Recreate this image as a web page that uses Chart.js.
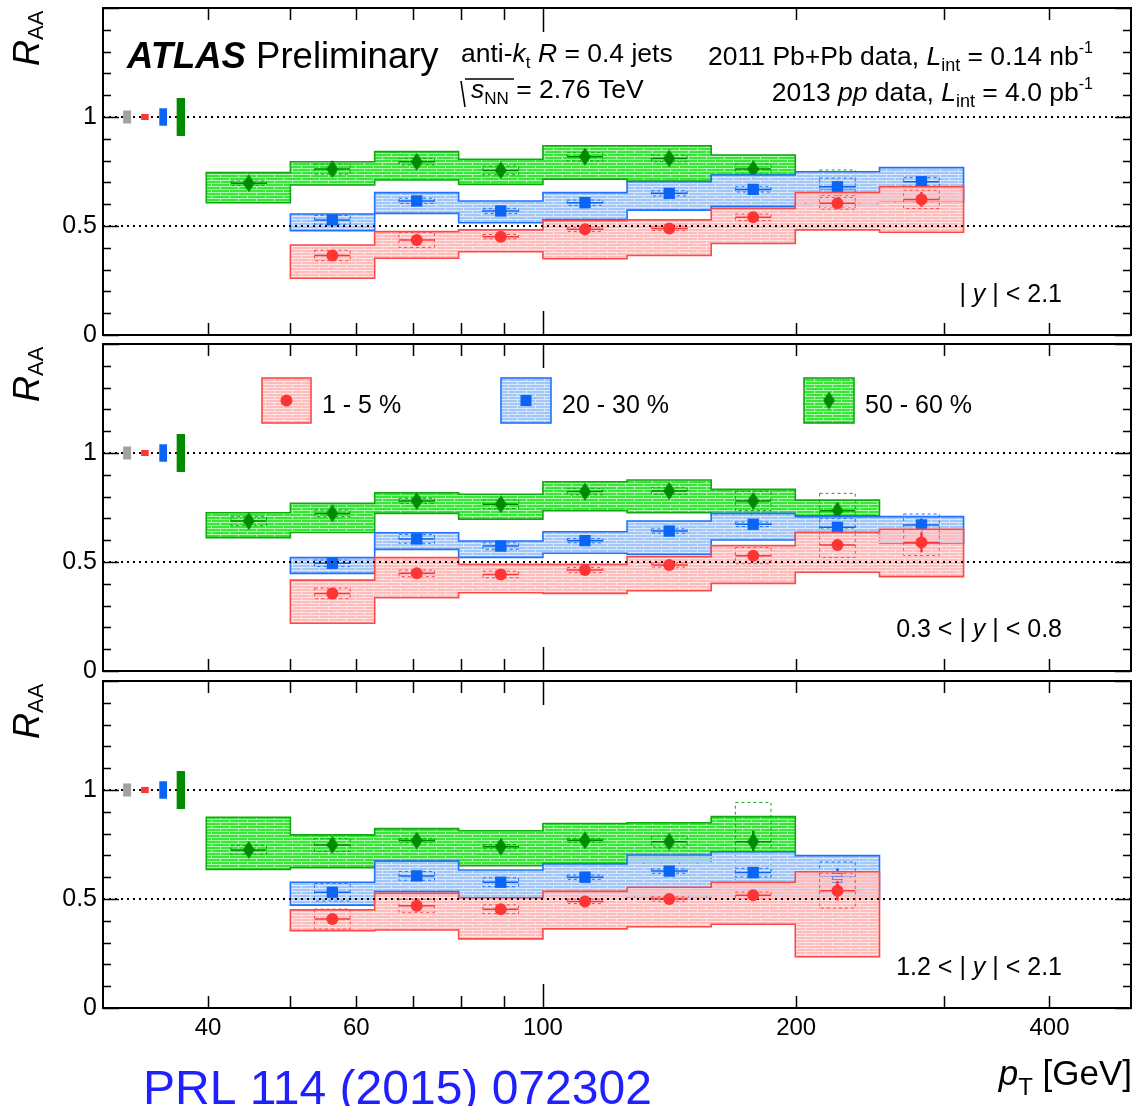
<!DOCTYPE html>
<html>
<head>
<meta charset="utf-8">
<title>Jet R_AA vs pT</title>
<script src="https://cdn.jsdelivr.net/npm/chart.js@4.4.1/dist/chart.umd.min.js"></script>
<style>
  body { margin: 0; background: #fff; }
  #wrap { position: relative; width: 1132px; height: 1106px; overflow: hidden; background: #fff; }
  #wrap canvas { position: absolute; left: 0; top: 0; }
</style>
</head>
<body>
<div id="wrap">
  <canvas id="c1" width="1132" height="1106"></canvas>
  <canvas id="c2" width="1132" height="1106"></canvas>
  <canvas id="c3" width="1132" height="1106"></canvas>
</div>
<script>
// pT binning (GeV) and marker positions
const ptEdges = [39.8, 50.1, 63.1, 79.4, 100, 125.9, 158.5, 199.5, 251.2, 316.2];
const ptCenters = [44.7, 56.2, 70.8, 89.1, 112.2, 141.3, 177.8, 223.9, 281.8];

const xTicks = [40, 50, 60, 70, 80, 90, 100, 200, 300, 400];
const xLabels = [40, 60, 100, 200, 400];
const yLabels = [0, 0.5, 1];

// normalisation uncertainties drawn at unity: pp lumi, 1-5%, 20-30%, 50-60%
const normLo = [31.7, 33.3, 35.0, 36.7];
const normHi = [32.4, 34.0, 35.75, 37.55];
const normErr = [0.03, 0.014, 0.04, 0.087];
const normColors = ['#a3a3a3', '#ff3535', '#0a64f5', '#008a00'];

// |y| < 2.1
const g1Val = [0.696, 0.761, 0.795, 0.755, 0.818, 0.81, 0.761, 0.67, null];
const g1Lo = [0.607, 0.688, 0.711, 0.691, 0.715, 0.706, 0.734, null, null];
const g1Hi = [0.745, 0.795, 0.841, 0.806, 0.868, 0.868, 0.826, null, null];
const g1Unc = [0.01, 0.023, 0.015, 0.02, 0.02, 0.015, 0.023, 0.087, null];
const g1Stat = [0.01, 0.01, 0.01, 0.01, 0.01, 0.015, 0.015, 0.02, null];
const b1Val = [null, 0.528, 0.615, 0.569, 0.607, 0.65, 0.668, 0.68, 0.703];
const b1Lo = [null, 0.479, 0.558, 0.515, 0.53, 0.573, 0.59, 0.604, 0.609];
const b1Hi = [null, 0.555, 0.653, 0.615, 0.653, 0.703, 0.734, 0.749, 0.768];
const b1Unc = [null, 0.02, 0.012, 0.012, 0.012, 0.012, 0.012, 0.04, 0.02];
const b1Stat = [null, 0.01, 0.01, 0.01, 0.01, 0.012, 0.015, 0.02, 0.025];
const r1Val = [null, 0.365, 0.436, 0.451, 0.485, 0.489, 0.54, 0.604, 0.622];
const r1Lo = [null, 0.26, 0.352, 0.382, 0.35, 0.365, 0.42, 0.482, 0.471];
const r1Hi = [null, 0.413, 0.474, 0.482, 0.524, 0.528, 0.581, 0.654, 0.68];
const r1Unc = [null, 0.024, 0.034, 0.01, 0.01, 0.01, 0.015, 0.027, 0.042];
const r1Stat = [null, 0.01, 0.01, 0.01, 0.01, 0.012, 0.015, 0.02, 0.034];

// 0.3 < |y| < 0.8
const g2Val = [0.688, 0.723, 0.78, 0.765, 0.823, 0.826, 0.78, 0.735, null];
const g2Lo = [0.612, 0.635, 0.723, 0.696, 0.735, 0.726, 0.716, 0.712, null];
const g2Hi = [0.726, 0.769, 0.818, 0.811, 0.868, 0.876, 0.833, 0.784, null];
const g2Unc = [0.02, 0.015, 0.012, 0.02, 0.015, 0.015, 0.044, 0.08, null];
const g2Stat = [0.01, 0.01, 0.01, 0.01, 0.01, 0.015, 0.02, 0.036, null];
const b2Val = [null, 0.494, 0.606, 0.573, 0.598, 0.642, 0.673, 0.659, 0.67];
const b2Lo = [null, 0.448, 0.558, 0.521, 0.54, 0.535, 0.601, 0.632, 0.586];
const b2Hi = [null, 0.52, 0.634, 0.596, 0.639, 0.688, 0.723, 0.708, 0.708];
const b2Unc = [null, 0.015, 0.02, 0.015, 0.01, 0.01, 0.01, 0.04, 0.05];
const b2Stat = [null, 0.01, 0.01, 0.01, 0.01, 0.012, 0.015, 0.02, 0.03];
const r2Val = [null, 0.356, 0.448, 0.443, 0.463, 0.486, 0.529, 0.578, 0.59];
const r2Lo = [null, 0.219, 0.336, 0.359, 0.356, 0.368, 0.402, 0.453, 0.433];
const r2Hi = [null, 0.417, 0.52, 0.489, 0.489, 0.524, 0.575, 0.636, 0.65];
const r2Unc = [null, 0.024, 0.015, 0.015, 0.012, 0.01, 0.037, 0.057, 0.06];
const r2Stat = [null, 0.01, 0.01, 0.01, 0.01, 0.015, 0.02, 0.025, 0.046];

// 1.2 < |y| < 2.1
const g3Val = [0.725, 0.748, 0.768, 0.74, 0.769, 0.763, 0.763, null, null];
const g3Lo = [0.636, 0.644, 0.674, 0.653, 0.664, 0.664, 0.717, null, null];
const g3Hi = [0.875, 0.794, 0.823, 0.813, 0.846, 0.85, 0.878, null, null];
const g3Unc = [0.02, 0.03, 0.01, 0.01, 0.01, 0.025, 0.18, null, null];
const g3Stat = [0.015, 0.015, 0.015, 0.015, 0.015, 0.02, 0.05, null, null];
const b3Val = [null, 0.531, 0.606, 0.577, 0.6, 0.628, 0.621, 0.6, null];
const b3Lo = [null, 0.472, 0.534, 0.506, 0.5, 0.511, 0.499, 0.5, null];
const b3Hi = [null, 0.577, 0.674, 0.633, 0.661, 0.702, 0.717, 0.699, null];
const b3Unc = [null, 0.04, 0.02, 0.02, 0.01, 0.01, 0.02, 0.07, null];
const b3Stat = [null, 0.012, 0.012, 0.012, 0.012, 0.015, 0.02, 0.04, null];
const r3Val = [null, 0.408, 0.469, 0.453, 0.489, 0.5, 0.517, 0.538, null];
const r3Lo = [null, 0.355, 0.358, 0.317, 0.363, 0.373, 0.384, 0.235, null];
const r3Hi = [null, 0.45, 0.526, 0.506, 0.535, 0.554, 0.577, 0.625, null];
const r3Unc = [null, 0.046, 0.03, 0.02, 0.01, 0.01, 0.015, 0.08, null];
const r3Stat = [null, 0.012, 0.012, 0.012, 0.012, 0.015, 0.02, 0.045, null];

const FONT = "'Liberation Sans', Arial, Helvetica, sans-serif";

function diamond(color) {
  const c = document.createElement('canvas');
  c.width = 12; c.height = 18;
  const g = c.getContext('2d');
  g.fillStyle = color;
  g.beginPath();
  g.moveTo(6, 0); g.lineTo(12, 9); g.lineTo(6, 18); g.lineTo(0, 9);
  g.closePath(); g.fill();
  return c;
}

const styles = {
  green: { fill: '#38e638', edge: '#12a812', mark: '#008a00', shape: diamond('#008a00'), radius: 9 },
  blue: { fill: '#a2c6f8', edge: '#1f72ff', mark: '#0a64f5', shape: 'rect', radius: 8 },
  red: { fill: '#ffbcbc', edge: '#ff4848', mark: '#ff3535', shape: 'circle', radius: 6 }
};

// brick-like fill: solid base with thin see-through stripes
function hatch(ctx, base) {
  const t = document.createElement('canvas');
  t.width = 18; t.height = 6;
  const g = t.getContext('2d');
  g.fillStyle = base; g.fillRect(0, 0, 18, 6);
  const gaps = [[0, 0, 18, 1], [0, 3, 18, 1], [4, 1, 1, 2], [13, 4, 1, 2]];
  gaps.forEach(r => g.clearRect(r[0], r[1], r[2], r[3]));
  g.globalAlpha = 0.4;
  gaps.forEach(r => g.fillRect(r[0], r[1], r[2], r[3]));
  return ctx.createPattern(t, 'repeat');
}

const panels = [
  { id: 'c1', top: 8, bottom: 335, region: ['', '| ', 'y', ' | < 2.1'],
    green: { val: g1Val, lo: g1Lo, hi: g1Hi, unc: g1Unc, stat: g1Stat },
    blue: { val: b1Val, lo: b1Lo, hi: b1Hi, unc: b1Unc, stat: b1Stat },
    red: { val: r1Val, lo: r1Lo, hi: r1Hi, unc: r1Unc, stat: r1Stat } },
  { id: 'c2', top: 344, bottom: 671, region: ['0.3 < ', '| ', 'y', ' | < 0.8'],
    green: { val: g2Val, lo: g2Lo, hi: g2Hi, unc: g2Unc, stat: g2Stat },
    blue: { val: b2Val, lo: b2Lo, hi: b2Hi, unc: b2Unc, stat: b2Stat },
    red: { val: r2Val, lo: r2Lo, hi: r2Hi, unc: r2Unc, stat: r2Stat } },
  { id: 'c3', top: 681, bottom: 1008, region: ['1.2 < ', '| ', 'y', ' | < 2.1'],
    green: { val: g3Val, lo: g3Lo, hi: g3Hi, unc: g3Unc, stat: g3Stat },
    blue: { val: b3Val, lo: b3Lo, hi: b3Hi, unc: b3Unc, stat: b3Stat },
    red: { val: r3Val, lo: r3Lo, hi: r3Hi, unc: r3Unc, stat: r3Stat } }
];
const regionBase = [302, 637, 975];

function panelOf(chart) { return panels.find(p => p.id === chart.canvas.id); }

// draw a run of text pieces: [text, size, style, dy]
function rich(ctx, x, y, parts, align) {
  let w = 0;
  parts.forEach(p => { ctx.font = (p[2] || '') + ' ' + p[1] + 'px ' + FONT; w += ctx.measureText(p[0]).width; });
  let cx = align === 'right' ? x - w : x;
  parts.forEach(p => {
    ctx.font = (p[2] || '') + ' ' + p[1] + 'px ' + FONT;
    ctx.fillText(p[0], cx, y + (p[3] || 0));
    cx += ctx.measureText(p[0]).width;
  });
}

// reference lines at 0.5 and 1; always dashed from the left frame so repeats line up
function dotted(chart, fromX) {
  const ctx = chart.ctx, Y = chart.scales.y, a = chart.chartArea;
  ctx.save();
  ctx.beginPath();
  ctx.rect(Math.floor(fromX), a.top, a.right - Math.floor(fromX), a.bottom - a.top);
  ctx.clip();
  ctx.strokeStyle = '#000';
  ctx.lineWidth = 2;
  ctx.setLineDash([2, 4]);
  [0.5, 1].forEach(v => {
    const y = Math.round(Y.getPixelForValue(v));
    ctx.beginPath(); ctx.moveTo(Math.round(a.left), y); ctx.lineTo(a.right, y); ctx.stroke();
  });
  ctx.restore();
}

function drawSeries(chart, key) {
  const s = panelOf(chart)[key], st = styles[key];
  const ctx = chart.ctx, X = chart.scales.x, Y = chart.scales.y;
  const px = v => X.getPixelForValue(v), py = v => Y.getPixelForValue(v);
  ctx.save();
  // correlated systematics: stepped band over each run of filled bins
  let i = 0;
  while (i < s.lo.length) {
    if (s.lo[i] == null) { i++; continue; }
    let j = i;
    while (j < s.lo.length && s.lo[j] != null) j++;
    ctx.beginPath();
    ctx.moveTo(px(ptEdges[i]), py(s.hi[i]));
    for (let k = i; k < j; k++) { ctx.lineTo(px(ptEdges[k]), py(s.hi[k])); ctx.lineTo(px(ptEdges[k + 1]), py(s.hi[k])); }
    for (let k = j - 1; k >= i; k--) { ctx.lineTo(px(ptEdges[k + 1]), py(s.lo[k])); ctx.lineTo(px(ptEdges[k]), py(s.lo[k])); }
    ctx.closePath();
    ctx.fillStyle = hatch(ctx, st.fill);
    ctx.fill();
    ctx.strokeStyle = st.edge;
    ctx.lineWidth = 1.6;
    ctx.stroke();
    i = j;
  }
  ctx.restore();
  dotted(chart, px(ptEdges[0]));
  ctx.save();
  s.val.forEach((v, k) => {
    if (v == null) return;
    const x0 = px(ptCenters[k] / 1.05), x1 = px(ptCenters[k] * 1.05), xc = px(ptCenters[k]), yc = py(v);
    // uncorrelated systematics
    ctx.setLineDash([3, 3]);
    ctx.strokeStyle = st.edge;
    ctx.lineWidth = 1;
    ctx.strokeRect(x0, py(v + s.unc[k]), x1 - x0, py(v - s.unc[k]) - py(v + s.unc[k]));
    ctx.setLineDash([]);
    ctx.strokeStyle = st.mark;
    ctx.lineWidth = 1.5;
    ctx.beginPath(); ctx.moveTo(x0, yc); ctx.lineTo(x1, yc); ctx.stroke();
    ctx.lineWidth = 2.5;
    ctx.beginPath(); ctx.moveTo(xc, py(v + s.stat[k])); ctx.lineTo(xc, py(v - s.stat[k])); ctx.stroke();
  });
  ctx.restore();
}

function legendEntry(ctx, key, x, y, w, h, text) {
  const st = styles[key];
  ctx.save();
  ctx.fillStyle = hatch(ctx, st.fill);
  ctx.fillRect(x, y, w, h);
  ctx.strokeStyle = st.edge; ctx.lineWidth = 1.6;
  ctx.strokeRect(x, y, w, h);
  const cx = x + w / 2, cy = y + h / 2;
  ctx.fillStyle = st.mark;
  if (key === 'red') { ctx.beginPath(); ctx.arc(cx, cy, 6, 0, Math.PI * 2); ctx.fill(); }
  else if (key === 'blue') ctx.fillRect(cx - 5.5, cy - 5.5, 11, 11);
  else ctx.drawImage(st.shape, cx - 6, cy - 9);
  ctx.fillStyle = '#000';
  ctx.textBaseline = 'alphabetic';
  rich(ctx, x + w + 11, 413, [[text, 25]]);
  ctx.restore();
}

const raaPlugin = {
  id: 'raa',
  beforeDatasetsDraw(chart) {
    const ctx = chart.ctx, X = chart.scales.x, Y = chart.scales.y;
    dotted(chart, chart.chartArea.left);
    ctx.save();
    normLo.forEach((lo, k) => {
      const x0 = X.getPixelForValue(lo), x1 = X.getPixelForValue(normHi[k]);
      const y0 = Y.getPixelForValue(1 + normErr[k]), y1 = Y.getPixelForValue(1 - normErr[k]);
      ctx.fillStyle = normColors[k];
      ctx.fillRect(x0, y0, x1 - x0, y1 - y0);
    });
    ctx.restore();
  },
  beforeDatasetDraw(chart, args) {
    drawSeries(chart, chart.data.datasets[args.index].series);
  },
  afterDraw(chart) {
    const p = panelOf(chart), ctx = chart.ctx, a = chart.chartArea;
    const X = chart.scales.x, Y = chart.scales.y;
    ctx.save();
    ctx.strokeStyle = '#000';
    ctx.lineWidth = 1.5;
    // x ticks, bottom and top, pointing inwards
    xTicks.forEach(t => {
      const x = Math.round(X.getPixelForValue(t)) + 0.5, len = t === 100 ? 24 : 12;
      ctx.beginPath();
      ctx.moveTo(x, a.bottom); ctx.lineTo(x, a.bottom - len);
      ctx.moveTo(x, a.top); ctx.lineTo(x, a.top + len);
      ctx.stroke();
    });
    // y ticks every 0.1, left and right
    for (let n = 0; n <= 15; n++) {
      const y = Math.round(Y.getPixelForValue(n / 10)) + 0.5, len = n % 5 === 0 ? 16 : 8;
      ctx.beginPath();
      ctx.moveTo(a.left, y); ctx.lineTo(a.left + len, y);
      ctx.moveTo(a.right, y); ctx.lineTo(a.right - len, y);
      ctx.stroke();
    }
    ctx.lineWidth = 2;
    ctx.strokeRect(a.left, a.top, a.right - a.left, a.bottom - a.top);

    ctx.fillStyle = '#000';
    ctx.font = '25px ' + FONT;
    ctx.textAlign = 'right';
    ctx.textBaseline = 'middle';
    yLabels.forEach(v => ctx.fillText(String(v), 97, Y.getPixelForValue(v)));

    // y title, rotated
    ctx.save();
    ctx.translate(39, p.top + 58);
    ctx.rotate(-Math.PI / 2);
    ctx.textAlign = 'left';
    ctx.textBaseline = 'alphabetic';
    rich(ctx, 0, 0, [['R', 36, 'italic'], ['AA', 22, '', 4]]);
    ctx.restore();

    ctx.textAlign = 'left';
    ctx.textBaseline = 'alphabetic';
    const r = p.region;
    rich(ctx, 1062, regionBase[panels.indexOf(p)], [[r[0], 25], [r[1], 25], [r[2], 25, 'italic'], [r[3], 25]], 'right');

    if (p.id === 'c1') {
      rich(ctx, 127, 68, [['ATLAS', 36.5, 'italic bold'], [' Preliminary', 36.5]]);
      rich(ctx, 461, 62, [['anti-', 26.5], ['k', 26.5, 'italic'], ['t', 17, '', 6], [' ', 26.5], ['R', 26.5, 'italic'], [' = 0.4 jets', 26.5]]);
      // sqrt(s_NN)
      ctx.lineWidth = 1.6;
      ctx.beginPath();
      ctx.moveTo(461, 81); ctx.lineTo(465, 107); ctx.moveTo(465, 79); ctx.lineTo(514, 79);
      ctx.stroke();
      rich(ctx, 471, 98, [['s', 26.5, 'italic'], ['NN', 17, '', 6], [' = 2.76 TeV', 26.5]]);
      rich(ctx, 1093, 65, [['2011 Pb+Pb data, ', 26.5], ['L', 26.5, 'italic'], ['int', 18, '', 6], [' = 0.14 nb', 26.5], ['-1', 16, '', -12]], 'right');
      rich(ctx, 1093, 101, [['2013 ', 26.5], ['pp', 26.5, 'italic'], [' data, ', 26.5], ['L', 26.5, 'italic'], ['int', 18, '', 6], [' = 4.0 pb', 26.5], ['-1', 16, '', -12]], 'right');
    }
    if (p.id === 'c2') {
      legendEntry(ctx, 'red', 262, 378, 49, 45, '1 - 5 %');
      legendEntry(ctx, 'blue', 501, 378, 50, 45, '20 - 30 %');
      legendEntry(ctx, 'green', 804, 378, 50, 45, '50 - 60 %');
    }
    if (p.id === 'c3') {
      ctx.font = '24px ' + FONT;
      ctx.textAlign = 'center';
      ctx.textBaseline = 'middle';
      xLabels.forEach(t => ctx.fillText(String(t), X.getPixelForValue(t), 1028));
      ctx.textAlign = 'left';
      ctx.textBaseline = 'alphabetic';
      rich(ctx, 1132, 1085, [['p', 35, 'italic'], ['T', 24, '', 10], [' [GeV]', 35]], 'right');
      ctx.fillStyle = '#1f1fff';
      rich(ctx, 143, 1104, [['PRL 114 (2015) 072302', 48]]);
    }
    ctx.restore();
  }
};

panels.forEach(p => {
  // Chart.js paints the last dataset first, so green ends up underneath and red on top
  const datasets = ['red', 'blue', 'green'].map(key => ({
    series: key,
    data: p[key].val.map((v, k) => v == null ? null : { x: ptCenters[k], y: v }).filter(d => d),
    pointStyle: styles[key].shape,
    pointRadius: styles[key].radius,
    backgroundColor: styles[key].mark,
    borderWidth: 0
  }));
  new Chart(document.getElementById(p.id), {
    type: 'scatter',
    data: { datasets },
    options: {
      responsive: false,
      animation: false,
      devicePixelRatio: 1,
      layout: { autoPadding: false, padding: { left: 103, right: 1, top: p.top, bottom: 1106 - p.bottom } },
      scales: {
        x: { type: 'logarithmic', min: 30, max: 500, display: false },
        y: { type: 'linear', min: 0, max: 1.5, display: false }
      },
      plugins: { legend: { display: false }, tooltip: { enabled: false } },
      events: []
    },
    plugins: [raaPlugin]
  });
});
</script>
</body>
</html>
